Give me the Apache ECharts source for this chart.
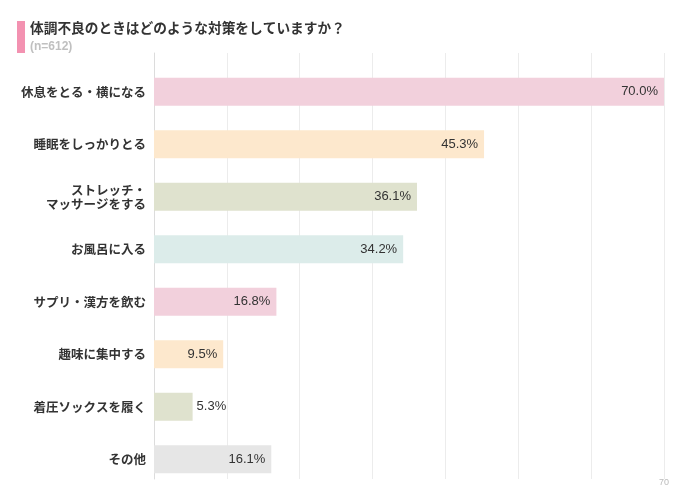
<!DOCTYPE html>
<html>
<head>
<meta charset="utf-8">
<script src="https://cdn.jsdelivr.net/npm/echarts@6/dist/echarts.min.js"></script>
<style>
html,body{margin:0;padding:0;background:#fff;}
#chart{width:700px;height:494px;}
</style>
</head>
<body>
<div id="chart"></div>
<script>
var categories = ["休息をとる・横になる","睡眠をしっかりとる","ストレッチ・\nマッサージをする","お風呂に入る","サプリ・漢方を飲む","趣味に集中する","着圧ソックスを履く","その他"];
var values = [70.0, 45.3, 36.1, 34.2, 16.8, 9.5, 5.3, 16.1];
var barColors = ["#f2d0dc","#fde8cd","#dfe2ce","#dcecea","#f2d0dc","#fde8cd","#dfe2ce","#e6e6e6"];
var axisTicks = [0,10,20,30,40,50,60,70];
var titleText = "体調不良のときはどのような対策をしていますか？";
var subText = "(n=612)";

var jp = '"Noto Sans CJK JP", "Noto Sans", sans-serif';
var num = '"Liberation Sans", Arial, sans-serif';

var chart = echarts.init(document.getElementById('chart'), null, {renderer:'canvas'});
var data = values.map(function(v, i){
  return {
    value: v,
    itemStyle: {color: barColors[i]},
    label: v < 8 ? {position: 'right', distance: 4} : {position: 'insideRight', distance: 6}
  };
});
chart.setOption({
  animation: false,
  graphic: [
    {type:'rect', left:17, top:21, shape:{width:8, height:32}, style:{fill:'#f392b1'}},
    {type:'text', left:30, top:21, style:{text:titleText, font:'bold 13.7px ' + jp, fill:'#333'}},
    {type:'text', left:30, top:41, style:{text:subText, font:'bold 12px ' + num, fill:'#c0c0c0'}}
  ],
  grid: [
    {left:154, right:36, top:65.5, height:420, containLabel:false},
    {left:154, right:36, top:53, bottom:15, containLabel:false}
  ],
  xAxis: [
    {gridIndex:0, type:'value', min:0, max:70, interval:10, show:false},
    {gridIndex:1, type:'value', min:0, max:70, interval:10,
     axisLine:{show:false}, axisTick:{show:false},
     splitLine:{show:true, lineStyle:{color:'#ececec', width:1}},
     axisLabel:{show:true, margin:-1, color:'#bbb', fontSize:9, fontFamily:num,
       formatter:function(v){ return v === axisTicks[axisTicks.length-1] ? String(v) : ''; }}}
  ],
  yAxis: [
    {gridIndex:0, type:'category', data:categories, inverse:true,
     axisLine:{show:false}, axisTick:{show:false}, splitLine:{show:false},
     axisLabel:{margin:8, color:'#333', fontSize:12.5, fontWeight:'bold', fontFamily:jp, lineHeight:14, align:'right'}},
    {gridIndex:1, type:'value', min:0, max:1,
     axisLine:{show:true, lineStyle:{color:'#dcdcdc', width:1}},
     axisTick:{show:false}, axisLabel:{show:false}, splitLine:{show:false}}
  ],
  series: [{
    type:'bar', xAxisIndex:0, yAxisIndex:0,
    data:data, barWidth:28,
    label:{show:true, color:'#333', fontSize:13, fontFamily:num,
      formatter:function(p){ return p.value.toFixed(1) + '%'; }},
    z:3
  }]
});
</script>
</body>
</html>
